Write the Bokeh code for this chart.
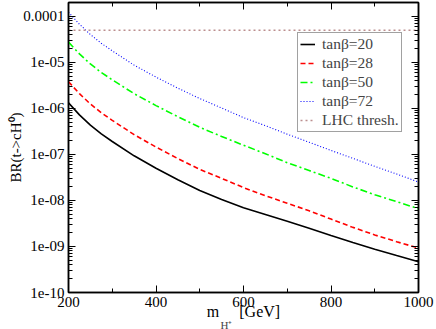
from bokeh.plotting import figure
from bokeh.models import (LinearAxis, LogAxis, FixedTicker, CustomJSTickFormatter,
                          Label, Legend, LegendItem, Range1d)
from bokeh.embed import file_html
from bokeh.resources import INLINE

# ---- data ----
mass = [200, 225, 250, 275, 300, 350, 400, 450, 500, 550, 600, 650, 700, 750, 800, 850, 900, 950, 1000]
br_tb20 = [1.32e-6, 7.24e-7, 4.32e-7, 2.79e-7, 1.91e-7, 9.33e-8, 5.01e-8, 2.82e-8, 1.64e-8, 1.05e-8,
           6.92e-9, 4.95e-9, 3.55e-9, 2.50e-9, 1.74e-9, 1.22e-9, 8.71e-10, 6.38e-10, 4.68e-10]
br_tb28 = [3.80e-6, 2.09e-6, 1.245e-6, 8.04e-7, 5.50e-7, 2.69e-7, 1.445e-7, 8.13e-8, 4.73e-8, 3.02e-8,
           1.905e-8, 1.27e-8, 8.71e-9, 5.96e-9, 3.94e-9, 2.60e-9, 1.78e-9, 1.27e-9, 9.23e-10]
br_tb50 = [2.75e-5, 1.53e-5, 9.23e-6, 6.03e-6, 4.17e-6, 2.09e-6, 1.15e-6, 6.61e-7, 3.89e-7, 2.45e-7,
           1.585e-7, 1.035e-7, 6.61e-8, 4.47e-8, 3.02e-8, 1.97e-8, 1.33e-8, 9.44e-9, 6.61e-9]
br_tb72 = [1.23e-4, 6.76e-5, 4.03e-5, 2.60e-5, 1.78e-5, 8.71e-6, 4.79e-6, 2.75e-6, 1.64e-6, 1.02e-6,
           6.31e-7, 4.22e-7, 2.75e-7, 1.84e-7, 1.22e-7, 8.22e-8, 5.50e-8, 3.76e-8, 2.51e-8]
lhc_mass = [200, 1000]
lhc_thresh = [5e-5, 5e-5]

series_labels = ["tanβ=20", "tanβ=28", "tanβ=50", "tanβ=72", "LHC thresh."]

x_ticks = [200, 400, 600, 800, 1000]
x_minor = [300, 500, 700, 900]
y_ticks = [1e-10, 1e-9, 1e-8, 1e-7, 1e-6, 1e-5, 1e-4]
y_tick_labels = ["1e-10", "1e-09", "1e-08", "1e-07", "1e-06", "1e-05", "0.0001"]
y_minor = [k * t for t in y_ticks[:-1] for k in range(2, 10)] + [2e-4]

FONT = "Liberation Serif"
NB = "\u00a0"

p = figure(width=436, height=329, x_range=Range1d(200, 1000), y_range=Range1d(1e-10, 2e-4),
           y_axis_type="log", output_backend="svg", toolbar_location=None,
           min_border_left=68, min_border_right=18, min_border_top=2, min_border_bottom=37)
p.xgrid.visible = False
p.ygrid.visible = False
p.outline_line_color = "black"
p.outline_line_width = 1.5
p.background_fill_color = "white"
p.border_fill_color = "white"


def style_axis(ax, labels=True):
    ax.major_tick_in = 7
    ax.major_tick_out = 0
    ax.minor_tick_in = 4
    ax.minor_tick_out = 0
    ax.axis_line_color = "black"
    ax.axis_line_width = 1.5
    ax.major_tick_line_color = "black"
    ax.minor_tick_line_color = "black"
    ax.major_tick_line_width = 1
    ax.minor_tick_line_width = 1
    if labels:
        ax.major_label_text_font = FONT
        ax.major_label_text_font_size = "15px"
        ax.major_label_text_color = "black"
        ax.major_label_standoff = 4
        ax.axis_label_text_font = FONT
        ax.axis_label_text_font_size = "16px"
        ax.axis_label_text_font_style = "normal"
        ax.axis_label_text_color = "black"
    else:
        ax.major_label_text_font_size = "0px"
        ax.major_label_standoff = 0


xa = p.xaxis[0]
xa.ticker = FixedTicker(ticks=x_ticks, minor_ticks=x_minor)
style_axis(xa)
xa.axis_label = "m" + NB * 5 + "[GeV]"
xa.axis_label_standoff = -7

ya = p.yaxis[0]
ya.ticker = FixedTicker(ticks=y_ticks, minor_ticks=y_minor)
fmt_code = """
let best = 0; let bd = 1e9;
for (let i = 0; i < vals.length; i++) {
  const d = Math.abs(Math.log10(vals[i]) - Math.log10(tick));
  if (d < bd) { bd = d; best = i; }
}
return labs[best];
"""
ya.formatter = CustomJSTickFormatter(args=dict(vals=y_ticks, labs=y_tick_labels), code=fmt_code)
style_axis(ya)
ya.axis_label = "BR(t->cH⁰)"
ya.axis_label_text_font_size = "15px"
ya.axis_label_standoff = -4

empty = CustomJSTickFormatter(code="return ''")
top = LinearAxis(ticker=FixedTicker(ticks=x_ticks, minor_ticks=x_minor), formatter=empty)
style_axis(top, labels=False)
p.add_layout(top, "above")
right = LogAxis(ticker=FixedTicker(ticks=y_ticks, minor_ticks=y_minor), formatter=empty)
style_axis(right, labels=False)
p.add_layout(right, "right")

r20 = p.line(mass, br_tb20, line_color="black", line_width=1.6)
r28 = p.line(mass, br_tb28, line_color="#ff0000", line_width=1.6, line_dash="5 3")
r50 = p.line(mass, br_tb50, line_color="#00ff00", line_width=1.6, line_dash="7 3 2 3")
r72 = p.line(mass, br_tb72, line_color="#0000ff", line_width=1.1, line_dash="1 2")
rl = p.line(lhc_mass, lhc_thresh, line_color="#bc8f8f", line_width=1.5, line_dash="2 3")

legend = Legend(items=[LegendItem(label=lab, renderers=[r]) for lab, r in
                       zip(series_labels, [r20, r28, r50, r72, rl])],
                location=(229, 160), label_text_font=FONT, label_text_font_size="15.5px",
                glyph_width=15, glyph_height=18, label_height=18, spacing=1, padding=2,
                margin=0, label_standoff=7, border_line_color="#444444", border_line_width=1,
                background_fill_color="white", background_fill_alpha=1.0)
p.add_layout(legend)

# subscript H+ of the x-axis title (kept in the narrow right-hand panel so it takes no room)
p.add_layout(Label(x=-198, y=-32, x_units="screen", y_units="screen", text="H⁺",
                   text_font=FONT, text_font_size="11px", text_baseline="alphabetic"), "right")

open("out.html", "w").write(file_html(p, INLINE))
